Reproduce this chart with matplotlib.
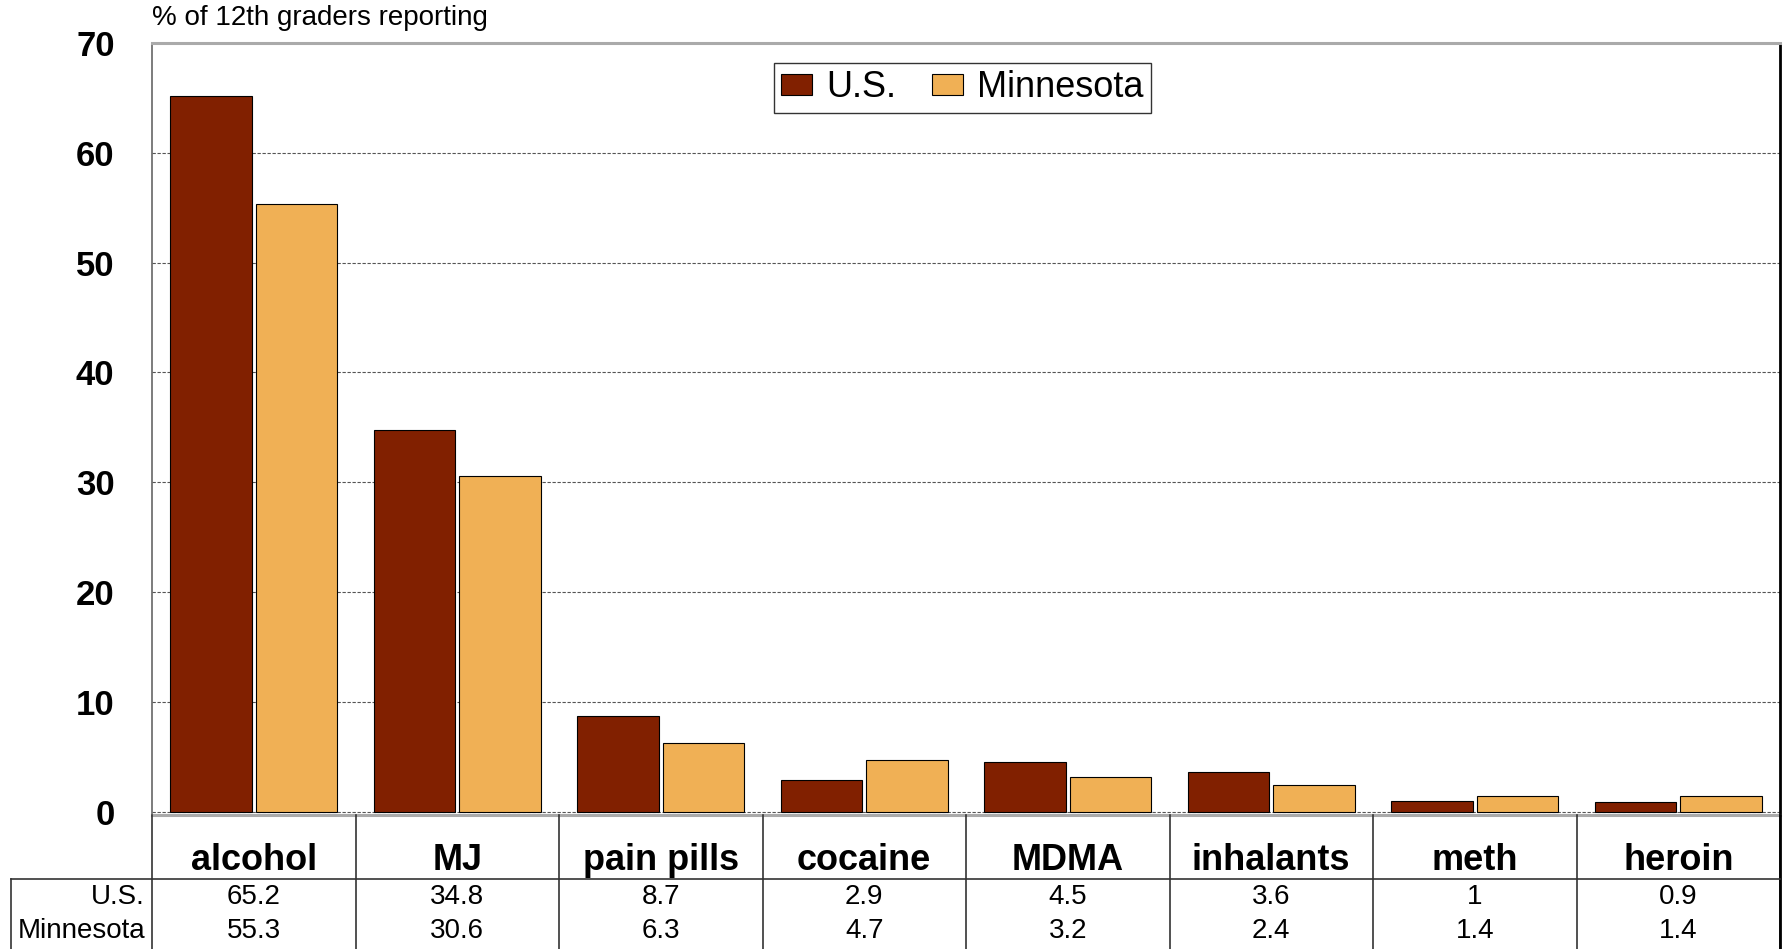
import matplotlib
matplotlib.use("Agg")
import matplotlib.pyplot as plt
import numpy as np

plt.rcParams['font.family'] = ['Liberation Sans', 'DejaVu Sans']

categories = ['alcohol', 'MJ', 'pain pills', 'cocaine', 'MDMA', 'inhalants', 'meth', 'heroin']
us_vals = [65.2, 34.8, 8.7, 2.9, 4.5, 3.6, 1, 0.9]
mn_vals = [55.3, 30.6, 6.3, 4.7, 3.2, 2.4, 1.4, 1.4]
series_names = ['U.S.', 'Minnesota']
y_ticks = [0, 10, 20, 30, 40, 50, 60, 70]

W, H = 1787, 949
fig = plt.figure(figsize=(W / 100, H / 100), dpi=100)

# plot area in pixels
left, right, top, zero = 152, 1780, 43, 815
ax = fig.add_axes([left / W, (H - zero) / H, (right - left) / W, (zero - top) / H])

x = np.arange(len(categories))
w = 0.4
ax.bar(x - 0.211, us_vals, w, color='#812000', edgecolor='black', linewidth=0.8, label=series_names[0], zorder=3)
ax.bar(x + 0.211, mn_vals, w, color='#F0B055', edgecolor='black', linewidth=0.8, label=series_names[1], zorder=3)

ax.set_xlim(-0.5, len(categories) - 0.5)
ax.set_ylim(-0.3, 70)
ax.set_yticks(y_ticks)
ax.set_yticklabels([str(t) for t in y_ticks], fontsize=25, fontweight='bold')
ax.tick_params(axis='y', length=0, pad=27)
ax.set_xticks([])
ax.yaxis.grid(True, linestyle=(0, (3, 1.5)), color='#555555', linewidth=0.8)
ax.set_axisbelow(True)

for s in ['top', 'bottom']:
    ax.spines[s].set_linestyle((0, (1, 1)))
    ax.spines[s].set_color('#aaaaaa')
    ax.spines[s].set_linewidth(2.2)
ax.spines['left'].set_color('#666666')
ax.spines['left'].set_linewidth(1.2)
ax.spines['right'].set_color('black')
ax.spines['right'].set_linewidth(2)

leg = ax.legend(loc='upper center', bbox_to_anchor=(0.4977, 0.974), ncol=2, fontsize=26,
                frameon=True, fancybox=False, handlelength=0.85, handleheight=0.5,
                handletextpad=0.4, columnspacing=1.0, borderpad=0.2, borderaxespad=0)
leg.get_frame().set_edgecolor('black')
leg.get_frame().set_linewidth(1)

fig.text(left / W, 1 - 18 / H, '% of 12th graders reporting', fontsize=20, va='center', ha='left')

# data table under the plot
tbl_left = 11
cw = (right - left) / len(categories)
tax = fig.add_axes([tbl_left / W, 0, (right - tbl_left) / W, (H - zero) / H])
xmin = -0.5 - (left - tbl_left) / cw
tax.set_xlim(xmin, len(categories) - 0.5)
tax.set_ylim(0, H - zero)
tax.axis('off')

row_h = 35
cat_bottom = 2 * row_h
for i in range(len(categories) + 1):
    tax.plot([i - 0.5, i - 0.5], [0, H - zero], color='#333333', lw=1.2, clip_on=False)
tax.plot([len(categories) - 0.5] * 2, [0, H - zero], color='black', lw=2, clip_on=False)
tax.plot([xmin, len(categories) - 0.5], [cat_bottom, cat_bottom], color='#333333', lw=1.2, clip_on=False)
tax.plot([xmin, xmin], [0, cat_bottom], color='#333333', lw=1.2, clip_on=False)

for i, c in enumerate(categories):
    tax.text(i, 92, c, fontsize=26, fontweight='bold', ha='center', va='center_baseline')
    tax.text(i, row_h * 1.5, f'{us_vals[i]:g}', fontsize=20, ha='center', va='center')
    tax.text(i, row_h * 0.5, f'{mn_vals[i]:g}', fontsize=20, ha='center', va='center')

tax.text(-0.5 - 7 / cw, row_h * 1.5, series_names[0], fontsize=20, ha='right', va='center')
tax.text(-0.5 - 7 / cw, row_h * 0.5, series_names[1], fontsize=20, ha='right', va='center')

fig.savefig('out.png', dpi=100)
